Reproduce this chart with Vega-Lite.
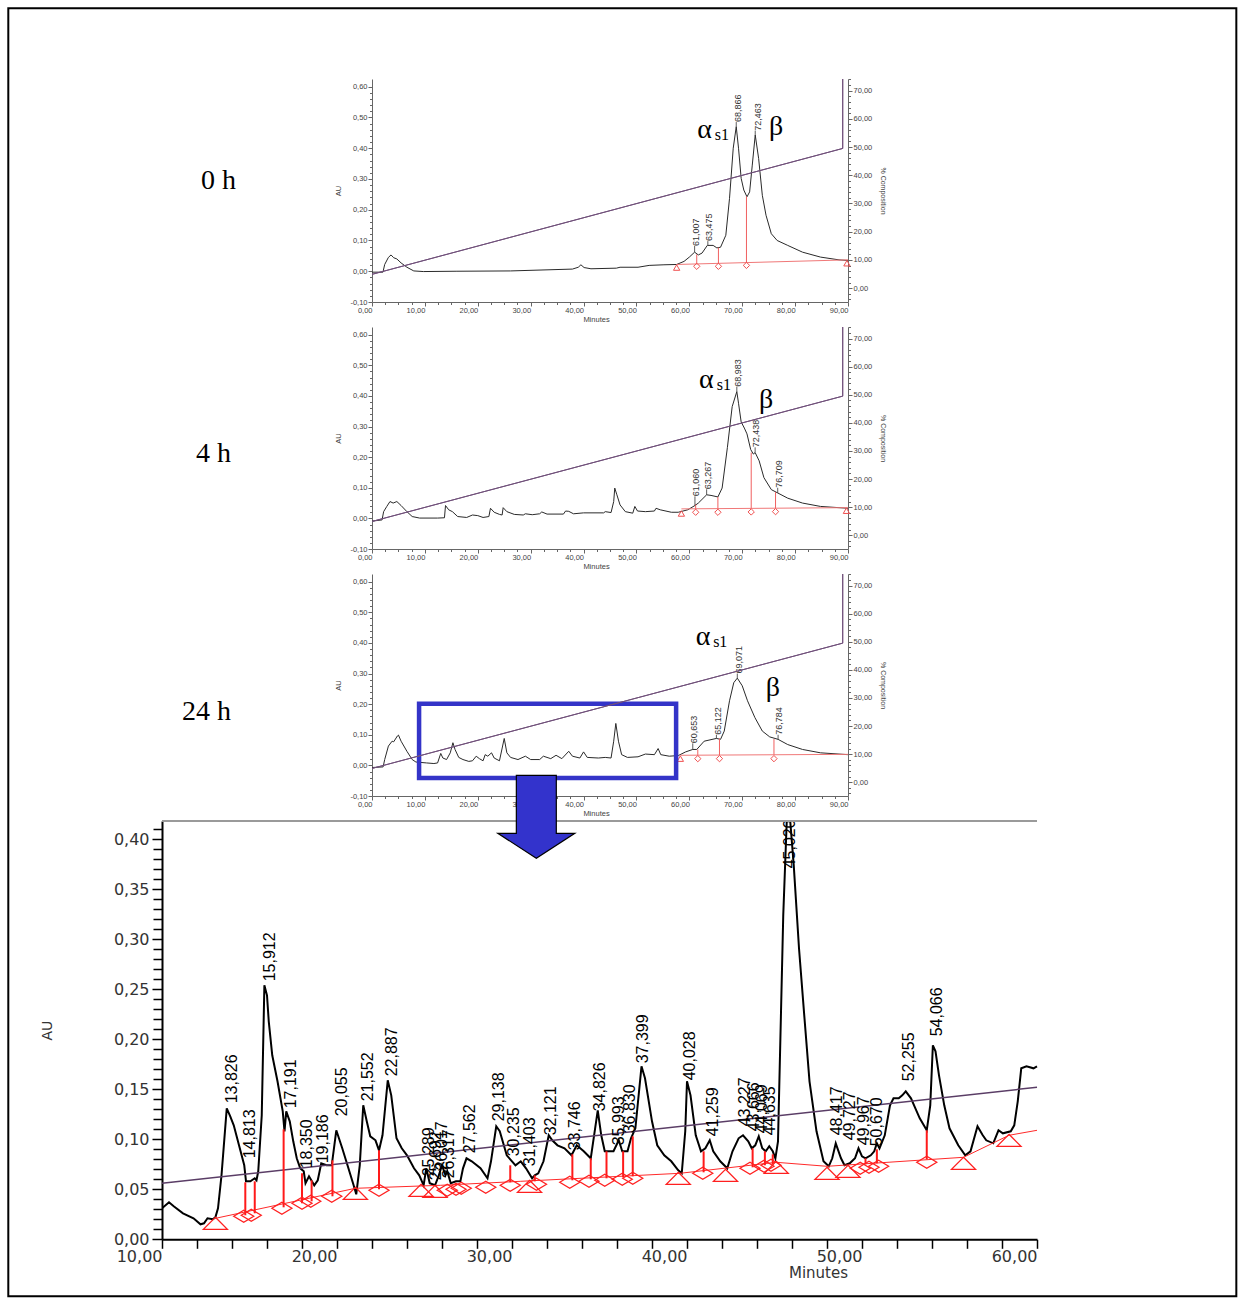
{
"$schema": "https://vega.github.io/schema/vega-lite/v6.json",
"background": "white",
"padding": {"left": 7, "top": 7, "right": 0, "bottom": 0},
"center": true,
"spacing": 25,
"bounds": "flush",
"config": {"view": {"stroke": null}, "axis": {"grid": false, "labelOverlap": false}},
"datasets": {
"tr0": [{"t":0,"v":-0.003},{"t":2.07,"v":-0.003},{"t":2.4,"v":0.022},{"t":3.1,"v":0.045},{"t":3.6,"v":0.053},{"t":4.1,"v":0.044},{"t":4.7,"v":0.04},{"t":5.5,"v":0.027},{"t":6.6,"v":0.013},{"t":7.9,"v":0.001},{"t":9.7,"v":-0.001},{"t":15.9,"v":0},{"t":26.2,"v":0.001},{"t":37.9,"v":0.007},{"t":39.0,"v":0.013},{"t":39.5,"v":0.021},{"t":40.1,"v":0.012},{"t":41.4,"v":0.008},{"t":46.2,"v":0.01},{"t":46.9,"v":0.013},{"t":50.3,"v":0.013},{"t":52.4,"v":0.019},{"t":55.2,"v":0.021},{"t":57.6,"v":0.022},{"t":59.0,"v":0.032},{"t":60.0,"v":0.046},{"t":61.0,"v":0.062},{"t":61.7,"v":0.053},{"t":62.4,"v":0.059},{"t":63.4,"v":0.084},{"t":64.5,"v":0.084},{"t":65.2,"v":0.076},{"t":65.9,"v":0.078},{"t":66.9,"v":0.117},{"t":67.6,"v":0.237},{"t":68.3,"v":0.4},{"t":68.87,"v":0.47},{"t":69.3,"v":0.4},{"t":69.8,"v":0.302},{"t":70.3,"v":0.264},{"t":70.9,"v":0.242},{"t":71.4,"v":0.258},{"t":71.9,"v":0.345},{"t":72.46,"v":0.443},{"t":73.1,"v":0.367},{"t":73.8,"v":0.247},{"t":74.5,"v":0.182},{"t":75.5,"v":0.122},{"t":76.6,"v":0.1},{"t":78.6,"v":0.084},{"t":81.4,"v":0.062},{"t":84.8,"v":0.046},{"t":88.3,"v":0.037},{"t":90,"v":0.035}],
"tr4": [{"t":0,"v":-0.009},{"t":1.9,"v":-0.005},{"t":2.2,"v":0.022},{"t":2.8,"v":0.039},{"t":3.4,"v":0.055},{"t":4.0,"v":0.05},{"t":4.7,"v":0.055},{"t":5.5,"v":0.042},{"t":6.6,"v":0.022},{"t":7.6,"v":0.006},{"t":9.0,"v":0.001},{"t":12.4,"v":0.001},{"t":13.7,"v":0.002},{"t":13.9,"v":0.042},{"t":14.5,"v":0.028},{"t":15.2,"v":0.022},{"t":16.2,"v":0.006},{"t":17.9,"v":0.003},{"t":19.0,"v":0.011},{"t":20.0,"v":0.009},{"t":21.0,"v":0.003},{"t":22.1,"v":0.006},{"t":22.4,"v":0.033},{"t":23.1,"v":0.02},{"t":24.1,"v":0.013},{"t":24.6,"v":0.011},{"t":24.8,"v":0.035},{"t":25.5,"v":0.022},{"t":26.9,"v":0.013},{"t":28.6,"v":0.011},{"t":29.0,"v":0.015},{"t":30.3,"v":0.012},{"t":31.7,"v":0.015},{"t":32.1,"v":0.021},{"t":33.1,"v":0.014},{"t":36.2,"v":0.014},{"t":36.6,"v":0.024},{"t":37.2,"v":0.023},{"t":38.1,"v":0.015},{"t":40.0,"v":0.018},{"t":43.8,"v":0.018},{"t":44.1,"v":0.022},{"t":45.2,"v":0.019},{"t":45.7,"v":0.055},{"t":45.9,"v":0.099},{"t":46.3,"v":0.077},{"t":46.9,"v":0.044},{"t":47.9,"v":0.022},{"t":49.3,"v":0.017},{"t":49.7,"v":0.039},{"t":50.2,"v":0.024},{"t":51.7,"v":0.022},{"t":53.4,"v":0.024},{"t":53.7,"v":0.033},{"t":54.5,"v":0.028},{"t":56.6,"v":0.02},{"t":57.9,"v":0.02},{"t":59.7,"v":0.028},{"t":61.06,"v":0.042},{"t":61.7,"v":0.05},{"t":63.27,"v":0.077},{"t":64.1,"v":0.075},{"t":65.4,"v":0.07},{"t":66.2,"v":0.099},{"t":67.2,"v":0.232},{"t":68.1,"v":0.365},{"t":68.98,"v":0.414},{"t":69.3,"v":0.376},{"t":69.8,"v":0.315},{"t":70.4,"v":0.295},{"t":70.9,"v":0.276},{"t":71.6,"v":0.225},{"t":72.1,"v":0.21},{"t":72.44,"v":0.215},{"t":73.2,"v":0.188},{"t":74.1,"v":0.133},{"t":75.5,"v":0.094},{"t":76.71,"v":0.083},{"t":78.6,"v":0.066},{"t":81.4,"v":0.05},{"t":84.8,"v":0.039},{"t":90,"v":0.033}],
"tr24": [{"t":0,"v":-0.007},{"t":2.1,"v":-0.005},{"t":2.4,"v":0.019},{"t":3.1,"v":0.063},{"t":3.8,"v":0.079},{"t":4.1,"v":0.077},{"t":4.8,"v":0.096},{"t":5.0,"v":0.099},{"t":5.5,"v":0.079},{"t":6.6,"v":0.046},{"t":7.6,"v":0.019},{"t":8.3,"v":0.011},{"t":10.3,"v":0.008},{"t":11.7,"v":0.006},{"t":12.4,"v":0.008},{"t":13.0,"v":0.039},{"t":13.4,"v":0.024},{"t":14.1,"v":0.019},{"t":14.8,"v":0.041},{"t":15.3,"v":0.074},{"t":15.7,"v":0.052},{"t":16.4,"v":0.026},{"t":17.2,"v":0.019},{"t":18.3,"v":0.013},{"t":19.0,"v":0.015},{"t":19.7,"v":0.03},{"t":20.3,"v":0.022},{"t":21.0,"v":0.015},{"t":21.4,"v":0.035},{"t":21.9,"v":0.03},{"t":22.6,"v":0.041},{"t":23.1,"v":0.024},{"t":24.1,"v":0.015},{"t":25.0,"v":0.088},{"t":25.5,"v":0.041},{"t":26.2,"v":0.026},{"t":27.6,"v":0.019},{"t":29.0,"v":0.03},{"t":30.0,"v":0.019},{"t":31.7,"v":0.019},{"t":32.4,"v":0.03},{"t":33.8,"v":0.022},{"t":34.8,"v":0.033},{"t":35.9,"v":0.022},{"t":37.2,"v":0.046},{"t":37.9,"v":0.03},{"t":39.3,"v":0.024},{"t":40.0,"v":0.044},{"t":40.7,"v":0.026},{"t":42.8,"v":0.024},{"t":44.1,"v":0.026},{"t":45.2,"v":0.024},{"t":45.7,"v":0.079},{"t":46.1,"v":0.137},{"t":46.6,"v":0.079},{"t":47.2,"v":0.035},{"t":48.3,"v":0.026},{"t":50.3,"v":0.028},{"t":51.7,"v":0.037},{"t":53.4,"v":0.035},{"t":54.1,"v":0.055},{"t":54.6,"v":0.035},{"t":56.2,"v":0.03},{"t":57.9,"v":0.032},{"t":59.3,"v":0.044},{"t":60.65,"v":0.052},{"t":61.4,"v":0.052},{"t":62.8,"v":0.079},{"t":65.12,"v":0.088},{"t":65.9,"v":0.085},{"t":66.6,"v":0.112},{"t":67.6,"v":0.211},{"t":68.4,"v":0.27},{"t":69.07,"v":0.285},{"t":70.0,"v":0.26},{"t":71.0,"v":0.211},{"t":72.4,"v":0.156},{"t":73.8,"v":0.112},{"t":75.2,"v":0.093},{"t":76.78,"v":0.085},{"t":78.6,"v":0.068},{"t":81.4,"v":0.052},{"t":84.8,"v":0.041},{"t":90,"v":0.035}],
"grad": [{"t":0,"pct":4.9},{"t":89.0,"pct":49.5},{"t":89.01,"pct":120}],
"bl": [{"p":"0h","t":57.6,"v":0.022},{"p":"0h","t":90,"v":0.037},{"p":"4h","t":58.5,"v":0.031},{"p":"4h","t":90,"v":0.035},{"p":"24h","t":58.3,"v":0.033},{"p":"24h","t":90,"v":0.036}],
"dr": [{"p":"0h","t":61.4,"v":0.024,"v2":0.055},{"p":"0h","t":65.5,"v":0.026,"v2":0.077},{"p":"0h","t":70.8,"v":0.028,"v2":0.243},{"p":"4h","t":61.2,"v":0.031,"v2":0.046},{"p":"4h","t":65.4,"v":0.032,"v2":0.07},{"p":"4h","t":71.7,"v":0.033,"v2":0.215},{"p":"4h","t":76.3,"v":0.034,"v2":0.086},{"p":"24h","t":61.6,"v":0.034,"v2":0.052},{"p":"24h","t":65.7,"v":0.034,"v2":0.088},{"p":"24h","t":76.0,"v":0.035,"v2":0.086}],
"mk": [{"p":"0h","t":57.6,"v":0.012,"m":"tri"},{"p":"0h","t":61.4,"v":0.016,"m":"dia"},{"p":"0h","t":65.5,"v":0.016,"m":"dia"},{"p":"0h","t":70.8,"v":0.019,"m":"dia"},{"p":"0h","t":89.8,"v":0.026,"m":"tri"},{"p":"4h","t":58.5,"v":0.016,"m":"tri"},{"p":"4h","t":61.2,"v":0.02,"m":"dia"},{"p":"4h","t":65.4,"v":0.02,"m":"dia"},{"p":"4h","t":71.7,"v":0.021,"m":"dia"},{"p":"4h","t":76.3,"v":0.022,"m":"dia"},{"p":"4h","t":89.7,"v":0.025,"m":"tri"},{"p":"24h","t":58.3,"v":0.022,"m":"tri"},{"p":"24h","t":61.6,"v":0.022,"m":"dia"},{"p":"24h","t":65.7,"v":0.022,"m":"dia"},{"p":"24h","t":76.0,"v":0.022,"m":"dia"}],
"pk": [{"p":"0h","lab":"61,007","tx":61.2,"ty":0.082,"pt":61.0,"pv":0.062},{"p":"0h","lab":"63,475","tx":63.8,"ty":0.098,"pt":63.5,"pv":0.085},{"p":"0h","lab":"68,866","tx":69.2,"ty":0.485,"pt":68.87,"pv":0.47},{"p":"0h","lab":"72,463","tx":72.9,"ty":0.457,"pt":72.46,"pv":0.443},{"p":"4h","lab":"61,060","tx":61.3,"ty":0.072,"pt":61.06,"pv":0.042},{"p":"4h","lab":"63,267","tx":63.6,"ty":0.095,"pt":63.27,"pv":0.077},{"p":"4h","lab":"68,983","tx":69.2,"ty":0.43,"pt":68.98,"pv":0.414},{"p":"4h","lab":"72,438","tx":72.6,"ty":0.232,"pt":72.44,"pv":0.215},{"p":"4h","lab":"76,709","tx":76.9,"ty":0.1,"pt":76.71,"pv":0.083},{"p":"24h","lab":"60,653","tx":60.9,"ty":0.072,"pt":60.65,"pv":0.052},{"p":"24h","lab":"65,122","tx":65.4,"ty":0.1,"pt":65.12,"pv":0.088},{"p":"24h","lab":"69,071","tx":69.3,"ty":0.3,"pt":69.07,"pv":0.285},{"p":"24h","lab":"76,784","tx":77.0,"ty":0.1,"pt":76.78,"pv":0.085}],
"gk": [{"p":"0h","k":"big","s":"α","t":62.9,"v":0.434},{"p":"0h","k":"sub","s":"s1","t":64.8,"v":0.426},{"p":"0h","k":"big","s":"β","t":76.4,"v":0.443},{"p":"4h","k":"big","s":"α","t":63.2,"v":0.425},{"p":"4h","k":"sub","s":"s1","t":65.2,"v":0.418},{"p":"4h","k":"big","s":"β","t":74.5,"v":0.359},{"p":"24h","k":"big","s":"α","t":62.6,"v":0.393},{"p":"24h","k":"sub","s":"s1","t":64.5,"v":0.386},{"p":"24h","k":"big","s":"β","t":75.8,"v":0.228}],
"box": [{"x1":8.9,"x2":57.5,"y1":-0.041,"y2":0.201}],
"trb": [{"t":10.0,"v":0.031},{"t":10.4,"v":0.037},{"t":10.67,"v":0.033},{"t":11.2,"v":0.026},{"t":11.8,"v":0.021},{"t":12.2,"v":0.015},{"t":12.4,"v":0.016},{"t":12.6,"v":0.021},{"t":12.9,"v":0.02},{"t":13.05,"v":0.022},{"t":13.2,"v":0.031},{"t":13.4,"v":0.064},{"t":13.7,"v":0.131},{"t":13.9,"v":0.123},{"t":14.1,"v":0.114},{"t":14.4,"v":0.094},{"t":14.7,"v":0.074},{"t":14.8,"v":0.058},{"t":15.05,"v":0.058},{"t":15.3,"v":0.061},{"t":15.4,"v":0.059},{"t":15.5,"v":0.068},{"t":15.7,"v":0.124},{"t":15.85,"v":0.254},{"t":16.0,"v":0.244},{"t":16.1,"v":0.218},{"t":16.3,"v":0.184},{"t":16.6,"v":0.158},{"t":16.9,"v":0.128},{"t":17.0,"v":0.108},{"t":17.1,"v":0.128},{"t":17.3,"v":0.118},{"t":17.5,"v":0.098},{"t":17.7,"v":0.081},{"t":17.9,"v":0.071},{"t":18.1,"v":0.068},{"t":18.2,"v":0.056},{"t":18.4,"v":0.063},{"t":18.7,"v":0.054},{"t":18.9,"v":0.059},{"t":19.1,"v":0.076},{"t":19.4,"v":0.074},{"t":19.7,"v":0.074},{"t":19.96,"v":0.109},{"t":20.3,"v":0.091},{"t":20.6,"v":0.074},{"t":20.95,"v":0.054},{"t":21.1,"v":0.045},{"t":21.3,"v":0.074},{"t":21.5,"v":0.134},{"t":21.7,"v":0.118},{"t":21.9,"v":0.103},{"t":22.2,"v":0.099},{"t":22.4,"v":0.089},{"t":22.6,"v":0.104},{"t":22.9,"v":0.159},{"t":23.1,"v":0.144},{"t":23.4,"v":0.101},{"t":23.7,"v":0.091},{"t":24.0,"v":0.084},{"t":24.4,"v":0.071},{"t":24.7,"v":0.064},{"t":24.95,"v":0.054},{"t":25.1,"v":0.071},{"t":25.3,"v":0.056},{"t":25.6,"v":0.054},{"t":25.8,"v":0.063},{"t":26.0,"v":0.074},{"t":26.2,"v":0.064},{"t":26.3,"v":0.068},{"t":26.5,"v":0.056},{"t":26.8,"v":0.058},{"t":27.05,"v":0.058},{"t":27.2,"v":0.071},{"t":27.4,"v":0.081},{"t":27.7,"v":0.078},{"t":28.2,"v":0.071},{"t":28.6,"v":0.061},{"t":28.8,"v":0.078},{"t":29.1,"v":0.113},{"t":29.3,"v":0.108},{"t":29.7,"v":0.084},{"t":30.0,"v":0.078},{"t":30.2,"v":0.074},{"t":30.5,"v":0.078},{"t":30.8,"v":0.071},{"t":31.15,"v":0.061},{"t":31.3,"v":0.064},{"t":31.5,"v":0.066},{"t":31.8,"v":0.078},{"t":32.1,"v":0.104},{"t":32.3,"v":0.099},{"t":32.6,"v":0.094},{"t":33.0,"v":0.091},{"t":33.4,"v":0.084},{"t":33.7,"v":0.094},{"t":34.1,"v":0.088},{"t":34.5,"v":0.081},{"t":34.9,"v":0.129},{"t":35.1,"v":0.104},{"t":35.3,"v":0.088},{"t":35.8,"v":0.088},{"t":36.1,"v":0.099},{"t":36.3,"v":0.088},{"t":36.6,"v":0.088},{"t":36.8,"v":0.101},{"t":37.05,"v":0.111},{"t":37.4,"v":0.173},{"t":37.6,"v":0.161},{"t":38.0,"v":0.118},{"t":38.3,"v":0.094},{"t":38.7,"v":0.084},{"t":39.1,"v":0.078},{"t":39.5,"v":0.069},{"t":39.7,"v":0.066},{"t":39.9,"v":0.108},{"t":40.0,"v":0.158},{"t":40.2,"v":0.144},{"t":40.5,"v":0.104},{"t":40.8,"v":0.088},{"t":41.05,"v":0.091},{"t":41.3,"v":0.099},{"t":41.5,"v":0.088},{"t":41.9,"v":0.078},{"t":42.3,"v":0.071},{"t":42.6,"v":0.088},{"t":42.95,"v":0.101},{"t":43.2,"v":0.104},{"t":43.5,"v":0.098},{"t":43.7,"v":0.091},{"t":43.9,"v":0.094},{"t":44.1,"v":0.103},{"t":44.3,"v":0.091},{"t":44.5,"v":0.088},{"t":44.7,"v":0.093},{"t":44.9,"v":0.088},{"t":45.05,"v":0.081},{"t":45.2,"v":0.098},{"t":45.5,"v":0.324},{"t":45.7,"v":0.418},{"t":45.9,"v":0.418},{"t":46.1,"v":0.374},{"t":46.4,"v":0.291},{"t":46.7,"v":0.224},{"t":47.0,"v":0.158},{"t":47.4,"v":0.108},{"t":47.8,"v":0.078},{"t":48.1,"v":0.073},{"t":48.3,"v":0.081},{"t":48.5,"v":0.096},{"t":48.8,"v":0.081},{"t":49.0,"v":0.074},{"t":49.3,"v":0.076},{"t":49.6,"v":0.081},{"t":49.8,"v":0.091},{"t":50.0,"v":0.083},{"t":50.2,"v":0.081},{"t":50.5,"v":0.084},{"t":50.7,"v":0.088},{"t":50.85,"v":0.096},{"t":51.0,"v":0.091},{"t":51.3,"v":0.104},{"t":51.6,"v":0.134},{"t":51.8,"v":0.141},{"t":52.1,"v":0.141},{"t":52.3,"v":0.144},{"t":52.5,"v":0.148},{"t":52.8,"v":0.141},{"t":53.05,"v":0.131},{"t":53.3,"v":0.121},{"t":53.7,"v":0.109},{"t":53.9,"v":0.134},{"t":54.05,"v":0.194},{"t":54.2,"v":0.188},{"t":54.4,"v":0.164},{"t":54.7,"v":0.134},{"t":55.0,"v":0.111},{"t":55.5,"v":0.094},{"t":55.9,"v":0.084},{"t":56.2,"v":0.088},{"t":56.6,"v":0.113},{"t":56.9,"v":0.104},{"t":57.1,"v":0.099},{"t":57.5,"v":0.096},{"t":57.8,"v":0.109},{"t":58.05,"v":0.106},{"t":58.5,"v":0.108},{"t":58.7,"v":0.114},{"t":58.9,"v":0.138},{"t":59.1,"v":0.171},{"t":59.4,"v":0.173},{"t":59.8,"v":0.171},{"t":60.0,"v":0.173}],
"gradb": [{"t":10,"v":0.056},{"t":60,"v":0.152}],
"blb": [{"t":13.06,"v":0.021},{"t":21.05,"v":0.051},{"t":25.9,"v":0.054},{"t":30.5,"v":0.058},{"t":39.6,"v":0.066},{"t":45.1,"v":0.077},{"t":48.0,"v":0.073},{"t":55.8,"v":0.082},{"t":58.4,"v":0.104},{"t":60,"v":0.109}],
"drb": [{"t":14.76,"v":0.024,"v2":0.057},{"t":15.3,"v":0.026,"v2":0.058},{"t":16.95,"v":0.032,"v2":0.11},{"t":18.0,"v":0.036,"v2":0.066},{"t":18.55,"v":0.038,"v2":0.059},{"t":19.74,"v":0.043,"v2":0.079},{"t":22.4,"v":0.05,"v2":0.089},{"t":29.9,"v":0.057,"v2":0.074},{"t":31.3,"v":0.058,"v2":0.064},{"t":33.45,"v":0.059,"v2":0.085},{"t":34.5,"v":0.06,"v2":0.081},{"t":35.4,"v":0.061,"v2":0.088},{"t":36.35,"v":0.062,"v2":0.088},{"t":36.9,"v":0.063,"v2":0.103},{"t":40.95,"v":0.067,"v2":0.088},{"t":43.75,"v":0.072,"v2":0.091},{"t":44.45,"v":0.074,"v2":0.088},{"t":44.9,"v":0.075,"v2":0.085},{"t":50.2,"v":0.075,"v2":0.081},{"t":50.85,"v":0.076,"v2":0.09},{"t":53.7,"v":0.08,"v2":0.109}],
"mkb": [{"t":13.05,"v":0.016,"m":"tri"},{"t":14.67,"v":0.023,"m":"dia"},{"t":15.1,"v":0.024,"m":"dia"},{"t":16.85,"v":0.031,"m":"dia"},{"t":18.0,"v":0.036,"m":"dia"},{"t":18.5,"v":0.038,"m":"dia"},{"t":19.7,"v":0.043,"m":"dia"},{"t":21.05,"v":0.046,"m":"tri"},{"t":22.4,"v":0.049,"m":"dia"},{"t":24.8,"v":0.049,"m":"tri"},{"t":25.6,"v":0.048,"m":"tri"},{"t":26.3,"v":0.049,"m":"dia"},{"t":26.8,"v":0.05,"m":"dia"},{"t":27.1,"v":0.051,"m":"dia"},{"t":28.5,"v":0.052,"m":"dia"},{"t":29.9,"v":0.054,"m":"dia"},{"t":31.0,"v":0.053,"m":"tri"},{"t":31.4,"v":0.055,"m":"dia"},{"t":33.3,"v":0.057,"m":"dia"},{"t":34.4,"v":0.058,"m":"dia"},{"t":35.3,"v":0.059,"m":"dia"},{"t":36.3,"v":0.06,"m":"dia"},{"t":36.9,"v":0.061,"m":"dia"},{"t":39.5,"v":0.061,"m":"tri"},{"t":40.9,"v":0.066,"m":"dia"},{"t":42.2,"v":0.064,"m":"tri"},{"t":43.6,"v":0.071,"m":"dia"},{"t":44.4,"v":0.073,"m":"dia"},{"t":44.8,"v":0.074,"m":"dia"},{"t":45.1,"v":0.072,"m":"tri"},{"t":48.0,"v":0.066,"m":"tri"},{"t":49.2,"v":0.068,"m":"tri"},{"t":49.9,"v":0.071,"m":"dia"},{"t":50.4,"v":0.072,"m":"dia"},{"t":50.95,"v":0.073,"m":"dia"},{"t":53.7,"v":0.077,"m":"dia"},{"t":55.8,"v":0.076,"m":"tri"},{"t":58.4,"v":0.099,"m":"tri"}],
"pkb": [{"lab":"13,826","tx":14.0,"ty":0.136},{"lab":"14,813","tx":15.05,"ty":0.081},{"lab":"15,912","tx":16.15,"ty":0.258},{"lab":"17,191","tx":17.37,"ty":0.131},{"lab":"18,350","tx":18.3,"ty":0.071},{"lab":"19,186","tx":19.2,"ty":0.076},{"lab":"20,055","tx":20.3,"ty":0.123},{"lab":"21,552","tx":21.75,"ty":0.138},{"lab":"22,887","tx":23.14,"ty":0.163},{"lab":"25,289","tx":25.24,"ty":0.063},{"lab":"25,692","tx":25.68,"ty":0.059},{"lab":"26,017","tx":26.0,"ty":0.069},{"lab":"26,317","tx":26.4,"ty":0.061},{"lab":"27,562","tx":27.6,"ty":0.086},{"lab":"29,138","tx":29.25,"ty":0.118},{"lab":"30,235","tx":30.1,"ty":0.083},{"lab":"31,403","tx":31.0,"ty":0.073},{"lab":"32,121","tx":32.2,"ty":0.104},{"lab":"33,746","tx":33.6,"ty":0.089},{"lab":"34,826","tx":35.0,"ty":0.128},{"lab":"35,993","tx":36.1,"ty":0.094},{"lab":"36,830","tx":36.76,"ty":0.106},{"lab":"37,399","tx":37.5,"ty":0.176},{"lab":"40,028","tx":40.15,"ty":0.159},{"lab":"41,259","tx":41.5,"ty":0.103},{"lab":"43,227","tx":43.33,"ty":0.113},{"lab":"43,666","tx":43.8,"ty":0.108},{"lab":"44,069","tx":44.3,"ty":0.106},{"lab":"44,635","tx":44.76,"ty":0.104},{"lab":"45,020","tx":45.9,"ty":0.371},{"lab":"48,417","tx":48.57,"ty":0.104},{"lab":"49,727","tx":49.34,"ty":0.099},{"lab":"49,967","tx":50.1,"ty":0.094},{"lab":"50,670","tx":50.86,"ty":0.093},{"lab":"52,255","tx":52.66,"ty":0.158},{"lab":"54,066","tx":54.3,"ty":0.203}],
"arrow": [{"t":31.39,"v":0.406}],
"frame": [{"x1":1.217,"x2":71.39,"y1":-0.057,"y2":1.231}],
"topline": [{"a":10,"b":60,"v":0.4183}]
},
"vconcat": [
{
 "width": 476, "height": 223,
 "title": {"text": "0 h", "orient": "left", "anchor": "middle", "frame": "group", "angle": 0, "align": "left", "baseline": "alphabetic", "offset": 99, "dy": -2, "font": "Liberation Serif", "fontSize": 28, "fontWeight": "normal", "color": "black"},
 "layer": [
  {"data": {"name": "tr0"}, "mark": {"type": "line", "color": "#2a2a2a", "strokeWidth": 1, "clip": true},
   "encoding": {
    "x": {"field": "t", "type": "quantitative", "scale": {"domain": [0, 90], "nice": false, "zero": false},
      "axis": {"orient": "bottom", "title": "Minutes", "titleFont": "Liberation Sans", "titleFontSize": 7.5, "titleFontWeight": "normal", "titleColor": "#444", "titlePadding": 2, "titleX": 224, "values": [0,10,20,30,40,50,60,70,80,90], "labelExpr": "replace(format(datum.value, '.2f'), '.', ',')", "labelAlign": "right", "labelFlush": false, "labelFont": "Liberation Sans", "labelFontSize": 7.5, "labelColor": "#444", "labelPadding": 0, "tickSize": 4, "tickColor": "#666", "domainColor": "#666"}},
    "y": {"field": "v", "type": "quantitative", "scale": {"domain": [-0.1, 0.625], "nice": false, "zero": false},
      "axis": {"orient": "left", "title": "AU", "titleFont": "Liberation Sans", "titleFontSize": 7.5, "titleFontWeight": "normal", "titleColor": "#444", "titlePadding": 7, "values": [-0.1,0,0.1,0.2,0.3,0.4,0.5,0.6], "labelExpr": "replace(replace(format(datum.value, '.2f'), '.', ','), '−', '-')", "labelFlush": false, "labelFont": "Liberation Sans", "labelFontSize": 7.5, "labelColor": "#444", "labelPadding": 1, "tickSize": 4, "tickColor": "#666", "domainColor": "#666"}}}},
  {"data": {"name": "bl"}, "transform": [{"filter": "datum.p == '0h'"}], "mark": {"type": "line", "color": "#f07878", "strokeWidth": 1},
   "encoding": {
    "x": {"field": "t", "type": "quantitative", "scale": {"domain": [0, 90], "nice": false, "zero": false},
      "axis": {"orient": "bottom", "title": null, "values": [2.5,5,7.5,12.5,15,17.5,22.5,25,27.5,32.5,35,37.5,42.5,45,47.5,52.5,55,57.5,62.5,65,67.5,72.5,75,77.5,82.5,85,87.5], "labels": false, "domain": false, "tickSize": 2.5, "tickColor": "#666"}},
    "y": {"field": "v", "type": "quantitative", "scale": {"domain": [-0.1, 0.625], "nice": false, "zero": false},
      "axis": {"orient": "left", "title": null, "values": [-0.08,-0.06,-0.04,-0.02,0.02,0.04,0.06,0.08,0.12,0.14,0.16,0.18,0.22,0.24,0.26,0.28,0.32,0.34,0.36,0.38,0.42,0.44,0.46,0.48,0.52,0.54,0.56,0.58], "labels": false, "domain": false, "tickSize": 2.5, "tickColor": "#666"}}}},
  {"data": {"name": "dr"}, "transform": [{"filter": "datum.p == '0h'"}], "mark": {"type": "rule", "color": "#f06060", "strokeWidth": 1},
   "encoding": {"x": {"field": "t", "type": "quantitative", "scale": {"domain": [0, 90], "nice": false, "zero": false}, "axis": null}, "y": {"field": "v", "type": "quantitative", "scale": {"domain": [-0.1, 0.625], "nice": false, "zero": false}, "axis": null}, "y2": {"field": "v2"}}},
  {"data": {"name": "mk"}, "transform": [{"filter": "datum.p == '0h'"}], "mark": {"type": "point", "filled": false, "color": "#f05050", "opacity": 1, "size": 40, "strokeWidth": 1},
   "encoding": {"x": {"field": "t", "type": "quantitative", "scale": {"domain": [0, 90], "nice": false, "zero": false}, "axis": null}, "y": {"field": "v", "type": "quantitative", "scale": {"domain": [-0.1, 0.625], "nice": false, "zero": false}, "axis": null}, "shape": {"field": "m", "type": "nominal", "scale": {"domain": ["tri", "dia"], "range": ["triangle-up", "diamond"]}, "legend": null}}},
  {"data": {"name": "pk"}, "transform": [{"filter": "datum.p == '0h'"}], "mark": {"type": "rule", "color": "#333", "strokeWidth": 0.8},
   "encoding": {"x": {"field": "pt", "type": "quantitative", "scale": {"domain": [0, 90], "nice": false, "zero": false}, "axis": null}, "y": {"field": "pv", "type": "quantitative", "scale": {"domain": [-0.1, 0.625], "nice": false, "zero": false}, "axis": null}, "y2": {"field": "ty"}}},
  {"data": {"name": "pk"}, "transform": [{"filter": "datum.p == '0h'"}], "mark": {"type": "text", "angle": 270, "align": "left", "baseline": "middle", "font": "Liberation Sans", "fontSize": 9, "color": "#333"},
   "encoding": {"x": {"field": "tx", "type": "quantitative", "scale": {"domain": [0, 90], "nice": false, "zero": false}, "axis": null}, "y": {"field": "ty", "type": "quantitative", "scale": {"domain": [-0.1, 0.625], "nice": false, "zero": false}, "axis": null}, "text": {"field": "lab"}}},
  {"data": {"name": "gk"}, "transform": [{"filter": "datum.p == '0h' && datum.k == 'big'"}], "mark": {"type": "text", "align": "center", "baseline": "alphabetic", "font": "Liberation Serif", "fontSize": 28, "color": "black"},
   "encoding": {"x": {"field": "t", "type": "quantitative", "scale": {"domain": [0, 90], "nice": false, "zero": false}, "axis": null}, "y": {"field": "v", "type": "quantitative", "scale": {"domain": [-0.1, 0.625], "nice": false, "zero": false}, "axis": null}, "text": {"field": "s"}}},
  {"data": {"name": "gk"}, "transform": [{"filter": "datum.p == '0h' && datum.k == 'sub'"}], "mark": {"type": "text", "align": "left", "baseline": "alphabetic", "font": "Liberation Serif", "fontSize": 16, "color": "black"},
   "encoding": {"x": {"field": "t", "type": "quantitative", "scale": {"domain": [0, 90], "nice": false, "zero": false}, "axis": null}, "y": {"field": "v", "type": "quantitative", "scale": {"domain": [-0.1, 0.625], "nice": false, "zero": false}, "axis": null}, "text": {"field": "s"}}},
  {"data": {"name": "grad"}, "mark": {"type": "line", "color": "#70507a", "strokeWidth": 1, "clip": true},
   "encoding": {"x": {"field": "t", "type": "quantitative", "scale": {"domain": [0, 90], "nice": false, "zero": false}, "axis": null},
    "y": {"field": "pct", "type": "quantitative", "scale": {"domain": [-4.9, 74.1], "nice": false, "zero": false},
     "axis": {"orient": "right", "title": "% Composition", "titleFont": "Liberation Sans", "titleFontSize": 7, "titleFontWeight": "normal", "titleColor": "#444", "titlePadding": 8, "values": [0,10,20,30,40,50,60,70], "labelExpr": "replace(format(datum.value, '.2f'), '.', ',')", "labelFlush": false, "labelFont": "Liberation Sans", "labelFontSize": 7.5, "labelColor": "#444", "labelPadding": 1, "tickSize": 4, "tickColor": "#666", "domainColor": "#666"}}}},
  {"data": {"name": "grad"}, "mark": {"type": "line", "color": "#70507a", "strokeWidth": 1, "clip": true},
   "encoding": {"x": {"field": "t", "type": "quantitative", "scale": {"domain": [0, 90], "nice": false, "zero": false}, "axis": null},
    "y": {"field": "pct", "type": "quantitative", "scale": {"domain": [-4.9, 74.1], "nice": false, "zero": false},
     "axis": {"orient": "right", "title": null, "values": [-4,-2,2,4,6,8,12,14,16,18,22,24,26,28,32,34,36,38,42,44,46,48,52,54,56,58,62,64,66,68,72,74], "labels": false, "domain": false, "tickSize": 2.5, "tickColor": "#666"}}}}
 ],
 "resolve": {"scale": {"y": "independent"}, "axis": {"x": "independent", "y": "independent"}}
},
{
 "width": 476, "height": 222,
 "title": {"text": "4 h", "orient": "left", "anchor": "middle", "frame": "group", "angle": 0, "align": "left", "baseline": "alphabetic", "offset": 104, "dy": 24, "font": "Liberation Serif", "fontSize": 28, "fontWeight": "normal", "color": "black"},
 "layer": [
  {"data": {"name": "tr4"}, "mark": {"type": "line", "color": "#2a2a2a", "strokeWidth": 1, "clip": true},
   "encoding": {
    "x": {"field": "t", "type": "quantitative", "scale": {"domain": [0, 90], "nice": false, "zero": false},
      "axis": {"orient": "bottom", "title": "Minutes", "titleFont": "Liberation Sans", "titleFontSize": 7.5, "titleFontWeight": "normal", "titleColor": "#444", "titlePadding": 2, "titleX": 224, "values": [0,10,20,30,40,50,60,70,80,90], "labelExpr": "replace(format(datum.value, '.2f'), '.', ',')", "labelAlign": "right", "labelFlush": false, "labelFont": "Liberation Sans", "labelFontSize": 7.5, "labelColor": "#444", "labelPadding": 0, "tickSize": 4, "tickColor": "#666", "domainColor": "#666"}},
    "y": {"field": "v", "type": "quantitative", "scale": {"domain": [-0.1, 0.625], "nice": false, "zero": false},
      "axis": {"orient": "left", "title": "AU", "titleFont": "Liberation Sans", "titleFontSize": 7.5, "titleFontWeight": "normal", "titleColor": "#444", "titlePadding": 7, "values": [-0.1,0,0.1,0.2,0.3,0.4,0.5,0.6], "labelExpr": "replace(replace(format(datum.value, '.2f'), '.', ','), '−', '-')", "labelFlush": false, "labelFont": "Liberation Sans", "labelFontSize": 7.5, "labelColor": "#444", "labelPadding": 1, "tickSize": 4, "tickColor": "#666", "domainColor": "#666"}}}},
  {"data": {"name": "bl"}, "transform": [{"filter": "datum.p == '4h'"}], "mark": {"type": "line", "color": "#f07878", "strokeWidth": 1},
   "encoding": {
    "x": {"field": "t", "type": "quantitative", "scale": {"domain": [0, 90], "nice": false, "zero": false},
      "axis": {"orient": "bottom", "title": null, "values": [2.5,5,7.5,12.5,15,17.5,22.5,25,27.5,32.5,35,37.5,42.5,45,47.5,52.5,55,57.5,62.5,65,67.5,72.5,75,77.5,82.5,85,87.5], "labels": false, "domain": false, "tickSize": 2.5, "tickColor": "#666"}},
    "y": {"field": "v", "type": "quantitative", "scale": {"domain": [-0.1, 0.625], "nice": false, "zero": false},
      "axis": {"orient": "left", "title": null, "values": [-0.08,-0.06,-0.04,-0.02,0.02,0.04,0.06,0.08,0.12,0.14,0.16,0.18,0.22,0.24,0.26,0.28,0.32,0.34,0.36,0.38,0.42,0.44,0.46,0.48,0.52,0.54,0.56,0.58], "labels": false, "domain": false, "tickSize": 2.5, "tickColor": "#666"}}}},
  {"data": {"name": "dr"}, "transform": [{"filter": "datum.p == '4h'"}], "mark": {"type": "rule", "color": "#f06060", "strokeWidth": 1},
   "encoding": {"x": {"field": "t", "type": "quantitative", "scale": {"domain": [0, 90], "nice": false, "zero": false}, "axis": null}, "y": {"field": "v", "type": "quantitative", "scale": {"domain": [-0.1, 0.625], "nice": false, "zero": false}, "axis": null}, "y2": {"field": "v2"}}},
  {"data": {"name": "mk"}, "transform": [{"filter": "datum.p == '4h'"}], "mark": {"type": "point", "filled": false, "color": "#f05050", "opacity": 1, "size": 40, "strokeWidth": 1},
   "encoding": {"x": {"field": "t", "type": "quantitative", "scale": {"domain": [0, 90], "nice": false, "zero": false}, "axis": null}, "y": {"field": "v", "type": "quantitative", "scale": {"domain": [-0.1, 0.625], "nice": false, "zero": false}, "axis": null}, "shape": {"field": "m", "type": "nominal", "scale": {"domain": ["tri", "dia"], "range": ["triangle-up", "diamond"]}, "legend": null}}},
  {"data": {"name": "pk"}, "transform": [{"filter": "datum.p == '4h'"}], "mark": {"type": "rule", "color": "#333", "strokeWidth": 0.8},
   "encoding": {"x": {"field": "pt", "type": "quantitative", "scale": {"domain": [0, 90], "nice": false, "zero": false}, "axis": null}, "y": {"field": "pv", "type": "quantitative", "scale": {"domain": [-0.1, 0.625], "nice": false, "zero": false}, "axis": null}, "y2": {"field": "ty"}}},
  {"data": {"name": "pk"}, "transform": [{"filter": "datum.p == '4h'"}], "mark": {"type": "text", "angle": 270, "align": "left", "baseline": "middle", "font": "Liberation Sans", "fontSize": 9, "color": "#333"},
   "encoding": {"x": {"field": "tx", "type": "quantitative", "scale": {"domain": [0, 90], "nice": false, "zero": false}, "axis": null}, "y": {"field": "ty", "type": "quantitative", "scale": {"domain": [-0.1, 0.625], "nice": false, "zero": false}, "axis": null}, "text": {"field": "lab"}}},
  {"data": {"name": "gk"}, "transform": [{"filter": "datum.p == '4h' && datum.k == 'big'"}], "mark": {"type": "text", "align": "center", "baseline": "alphabetic", "font": "Liberation Serif", "fontSize": 28, "color": "black"},
   "encoding": {"x": {"field": "t", "type": "quantitative", "scale": {"domain": [0, 90], "nice": false, "zero": false}, "axis": null}, "y": {"field": "v", "type": "quantitative", "scale": {"domain": [-0.1, 0.625], "nice": false, "zero": false}, "axis": null}, "text": {"field": "s"}}},
  {"data": {"name": "gk"}, "transform": [{"filter": "datum.p == '4h' && datum.k == 'sub'"}], "mark": {"type": "text", "align": "left", "baseline": "alphabetic", "font": "Liberation Serif", "fontSize": 16, "color": "black"},
   "encoding": {"x": {"field": "t", "type": "quantitative", "scale": {"domain": [0, 90], "nice": false, "zero": false}, "axis": null}, "y": {"field": "v", "type": "quantitative", "scale": {"domain": [-0.1, 0.625], "nice": false, "zero": false}, "axis": null}, "text": {"field": "s"}}},
  {"data": {"name": "grad"}, "mark": {"type": "line", "color": "#70507a", "strokeWidth": 1, "clip": true},
   "encoding": {"x": {"field": "t", "type": "quantitative", "scale": {"domain": [0, 90], "nice": false, "zero": false}, "axis": null},
    "y": {"field": "pct", "type": "quantitative", "scale": {"domain": [-4.9, 74.1], "nice": false, "zero": false},
     "axis": {"orient": "right", "title": "% Composition", "titleFont": "Liberation Sans", "titleFontSize": 7, "titleFontWeight": "normal", "titleColor": "#444", "titlePadding": 8, "values": [0,10,20,30,40,50,60,70], "labelExpr": "replace(format(datum.value, '.2f'), '.', ',')", "labelFlush": false, "labelFont": "Liberation Sans", "labelFontSize": 7.5, "labelColor": "#444", "labelPadding": 1, "tickSize": 4, "tickColor": "#666", "domainColor": "#666"}}}},
  {"data": {"name": "grad"}, "mark": {"type": "line", "color": "#70507a", "strokeWidth": 1, "clip": true},
   "encoding": {"x": {"field": "t", "type": "quantitative", "scale": {"domain": [0, 90], "nice": false, "zero": false}, "axis": null},
    "y": {"field": "pct", "type": "quantitative", "scale": {"domain": [-4.9, 74.1], "nice": false, "zero": false},
     "axis": {"orient": "right", "title": null, "values": [-4,-2,2,4,6,8,12,14,16,18,22,24,26,28,32,34,36,38,42,44,46,48,52,54,56,58,62,64,66,68,72,74], "labels": false, "domain": false, "tickSize": 2.5, "tickColor": "#666"}}}}
 ],
 "resolve": {"scale": {"y": "independent"}, "axis": {"x": "independent", "y": "independent"}}
},
{
 "width": 476, "height": 222,
 "title": {"text": "24 h", "orient": "left", "anchor": "middle", "frame": "group", "angle": 0, "align": "left", "baseline": "alphabetic", "offset": 104, "dy": 35, "font": "Liberation Serif", "fontSize": 28, "fontWeight": "normal", "color": "black"},
 "layer": [
  {"data": {"name": "tr24"}, "mark": {"type": "line", "color": "#2a2a2a", "strokeWidth": 1, "clip": true},
   "encoding": {
    "x": {"field": "t", "type": "quantitative", "scale": {"domain": [0, 90], "nice": false, "zero": false},
      "axis": {"orient": "bottom", "title": "Minutes", "titleFont": "Liberation Sans", "titleFontSize": 7.5, "titleFontWeight": "normal", "titleColor": "#444", "titlePadding": 2, "titleX": 224, "values": [0,10,20,30,40,50,60,70,80,90], "labelExpr": "replace(format(datum.value, '.2f'), '.', ',')", "labelAlign": "right", "labelFlush": false, "labelFont": "Liberation Sans", "labelFontSize": 7.5, "labelColor": "#444", "labelPadding": 0, "tickSize": 4, "tickColor": "#666", "domainColor": "#666"}},
    "y": {"field": "v", "type": "quantitative", "scale": {"domain": [-0.1, 0.625], "nice": false, "zero": false},
      "axis": {"orient": "left", "title": "AU", "titleFont": "Liberation Sans", "titleFontSize": 7.5, "titleFontWeight": "normal", "titleColor": "#444", "titlePadding": 7, "values": [-0.1,0,0.1,0.2,0.3,0.4,0.5,0.6], "labelExpr": "replace(replace(format(datum.value, '.2f'), '.', ','), '−', '-')", "labelFlush": false, "labelFont": "Liberation Sans", "labelFontSize": 7.5, "labelColor": "#444", "labelPadding": 1, "tickSize": 4, "tickColor": "#666", "domainColor": "#666"}}}},
  {"data": {"name": "bl"}, "transform": [{"filter": "datum.p == '24h'"}], "mark": {"type": "line", "color": "#f07878", "strokeWidth": 1},
   "encoding": {
    "x": {"field": "t", "type": "quantitative", "scale": {"domain": [0, 90], "nice": false, "zero": false},
      "axis": {"orient": "bottom", "title": null, "values": [2.5,5,7.5,12.5,15,17.5,22.5,25,27.5,32.5,35,37.5,42.5,45,47.5,52.5,55,57.5,62.5,65,67.5,72.5,75,77.5,82.5,85,87.5], "labels": false, "domain": false, "tickSize": 2.5, "tickColor": "#666"}},
    "y": {"field": "v", "type": "quantitative", "scale": {"domain": [-0.1, 0.625], "nice": false, "zero": false},
      "axis": {"orient": "left", "title": null, "values": [-0.08,-0.06,-0.04,-0.02,0.02,0.04,0.06,0.08,0.12,0.14,0.16,0.18,0.22,0.24,0.26,0.28,0.32,0.34,0.36,0.38,0.42,0.44,0.46,0.48,0.52,0.54,0.56,0.58], "labels": false, "domain": false, "tickSize": 2.5, "tickColor": "#666"}}}},
  {"data": {"name": "dr"}, "transform": [{"filter": "datum.p == '24h'"}], "mark": {"type": "rule", "color": "#f06060", "strokeWidth": 1},
   "encoding": {"x": {"field": "t", "type": "quantitative", "scale": {"domain": [0, 90], "nice": false, "zero": false}, "axis": null}, "y": {"field": "v", "type": "quantitative", "scale": {"domain": [-0.1, 0.625], "nice": false, "zero": false}, "axis": null}, "y2": {"field": "v2"}}},
  {"data": {"name": "mk"}, "transform": [{"filter": "datum.p == '24h'"}], "mark": {"type": "point", "filled": false, "color": "#f05050", "opacity": 1, "size": 40, "strokeWidth": 1},
   "encoding": {"x": {"field": "t", "type": "quantitative", "scale": {"domain": [0, 90], "nice": false, "zero": false}, "axis": null}, "y": {"field": "v", "type": "quantitative", "scale": {"domain": [-0.1, 0.625], "nice": false, "zero": false}, "axis": null}, "shape": {"field": "m", "type": "nominal", "scale": {"domain": ["tri", "dia"], "range": ["triangle-up", "diamond"]}, "legend": null}}},
  {"data": {"name": "pk"}, "transform": [{"filter": "datum.p == '24h'"}], "mark": {"type": "rule", "color": "#333", "strokeWidth": 0.8},
   "encoding": {"x": {"field": "pt", "type": "quantitative", "scale": {"domain": [0, 90], "nice": false, "zero": false}, "axis": null}, "y": {"field": "pv", "type": "quantitative", "scale": {"domain": [-0.1, 0.625], "nice": false, "zero": false}, "axis": null}, "y2": {"field": "ty"}}},
  {"data": {"name": "pk"}, "transform": [{"filter": "datum.p == '24h'"}], "mark": {"type": "text", "angle": 270, "align": "left", "baseline": "middle", "font": "Liberation Sans", "fontSize": 9, "color": "#333"},
   "encoding": {"x": {"field": "tx", "type": "quantitative", "scale": {"domain": [0, 90], "nice": false, "zero": false}, "axis": null}, "y": {"field": "ty", "type": "quantitative", "scale": {"domain": [-0.1, 0.625], "nice": false, "zero": false}, "axis": null}, "text": {"field": "lab"}}},
  {"data": {"name": "gk"}, "transform": [{"filter": "datum.p == '24h' && datum.k == 'big'"}], "mark": {"type": "text", "align": "center", "baseline": "alphabetic", "font": "Liberation Serif", "fontSize": 28, "color": "black"},
   "encoding": {"x": {"field": "t", "type": "quantitative", "scale": {"domain": [0, 90], "nice": false, "zero": false}, "axis": null}, "y": {"field": "v", "type": "quantitative", "scale": {"domain": [-0.1, 0.625], "nice": false, "zero": false}, "axis": null}, "text": {"field": "s"}}},
  {"data": {"name": "gk"}, "transform": [{"filter": "datum.p == '24h' && datum.k == 'sub'"}], "mark": {"type": "text", "align": "left", "baseline": "alphabetic", "font": "Liberation Serif", "fontSize": 16, "color": "black"},
   "encoding": {"x": {"field": "t", "type": "quantitative", "scale": {"domain": [0, 90], "nice": false, "zero": false}, "axis": null}, "y": {"field": "v", "type": "quantitative", "scale": {"domain": [-0.1, 0.625], "nice": false, "zero": false}, "axis": null}, "text": {"field": "s"}}},
  {"data": {"name": "box"}, "mark": {"type": "rect", "filled": false, "stroke": "#3434c8", "strokeWidth": 4.5},
   "encoding": {"x": {"field": "x1", "type": "quantitative", "scale": {"domain": [0, 90], "nice": false, "zero": false}, "axis": null}, "x2": {"field": "x2"}, "y": {"field": "y1", "type": "quantitative", "scale": {"domain": [-0.1, 0.625], "nice": false, "zero": false}, "axis": null}, "y2": {"field": "y2"}}},
  {"data": {"name": "grad"}, "mark": {"type": "line", "color": "#70507a", "strokeWidth": 1, "clip": true},
   "encoding": {"x": {"field": "t", "type": "quantitative", "scale": {"domain": [0, 90], "nice": false, "zero": false}, "axis": null},
    "y": {"field": "pct", "type": "quantitative", "scale": {"domain": [-4.9, 74.1], "nice": false, "zero": false},
     "axis": {"orient": "right", "title": "% Composition", "titleFont": "Liberation Sans", "titleFontSize": 7, "titleFontWeight": "normal", "titleColor": "#444", "titlePadding": 8, "values": [0,10,20,30,40,50,60,70], "labelExpr": "replace(format(datum.value, '.2f'), '.', ',')", "labelFlush": false, "labelFont": "Liberation Sans", "labelFontSize": 7.5, "labelColor": "#444", "labelPadding": 1, "tickSize": 4, "tickColor": "#666", "domainColor": "#666"}}}},
  {"data": {"name": "grad"}, "mark": {"type": "line", "color": "#70507a", "strokeWidth": 1, "clip": true},
   "encoding": {"x": {"field": "t", "type": "quantitative", "scale": {"domain": [0, 90], "nice": false, "zero": false}, "axis": null},
    "y": {"field": "pct", "type": "quantitative", "scale": {"domain": [-4.9, 74.1], "nice": false, "zero": false},
     "axis": {"orient": "right", "title": null, "values": [-4,-2,2,4,6,8,12,14,16,18,22,24,26,28,32,34,36,38,42,44,46,48,52,54,56,58,62,64,66,68,72,74], "labels": false, "domain": false, "tickSize": 2.5, "tickColor": "#666"}}}}
 ],
 "resolve": {"scale": {"y": "independent"}, "axis": {"x": "independent", "y": "independent"}}
},
{
 "width": 896, "height": 418.3,
 "layer": [
  {"data": {"name": "trb"}, "mark": {"type": "line", "color": "black", "strokeWidth": 2, "clip": true},
   "encoding": {
    "x": {"field": "t", "type": "quantitative", "scale": {"domain": [10, 60], "range": [0, 875], "nice": false, "zero": false},
     "axis": {"orient": "bottom", "title": "Minutes", "titleFont": "DejaVu Sans", "titleFontSize": 15, "titleFontWeight": "normal", "titleColor": "#333", "titlePadding": 1, "titleX": 656, "values": [10,20,30,40,50,60], "labelExpr": "replace(format(datum.value, '.2f'), '.', ',')", "labelAlign": "right", "labelFlush": false, "labelFont": "DejaVu Sans", "labelFontSize": 16, "labelColor": "#333", "labelPadding": 0, "tickSize": 9, "tickWidth": 1.5, "tickColor": "black", "domainColor": "black", "domainWidth": 2}},
    "y": {"field": "v", "type": "quantitative", "scale": {"domain": [0, 0.4183], "nice": false, "zero": false},
     "axis": {"orient": "left", "title": "AU", "titleFont": "DejaVu Sans", "titleFontSize": 14, "titleFontWeight": "normal", "titleColor": "#333", "titlePadding": 59, "values": [0,0.05,0.1,0.15,0.2,0.25,0.3,0.35,0.4], "labelExpr": "replace(format(datum.value, '.2f'), '.', ',')", "labelFlush": false, "labelFont": "DejaVu Sans", "labelFontSize": 16, "labelColor": "#333", "labelPadding": 3, "tickSize": 10, "tickWidth": 1.5, "tickColor": "black", "domainColor": "black", "domainWidth": 2}}}},
  {"data": {"name": "blb"}, "mark": {"type": "line", "color": "#ff2a2a", "strokeWidth": 1},
   "encoding": {
    "x": {"field": "t", "type": "quantitative", "scale": {"domain": [10, 60], "range": [0, 875], "nice": false, "zero": false},
     "axis": {"orient": "bottom", "title": null, "values": [12,14,16,18,22,24,26,28,32,34,36,38,42,44,46,48,52,54,56,58], "labels": false, "domain": false, "tickSize": 9, "tickWidth": 1.5, "tickColor": "black"}},
    "y": {"field": "v", "type": "quantitative", "scale": {"domain": [0, 0.4183], "nice": false, "zero": false},
     "axis": {"orient": "left", "title": null, "values": [0.01,0.02,0.03,0.04,0.06,0.07,0.08,0.09,0.11,0.12,0.13,0.14,0.16,0.17,0.18,0.19,0.21,0.22,0.23,0.24,0.26,0.27,0.28,0.29,0.31,0.32,0.33,0.34,0.36,0.37,0.38,0.39,0.41], "labels": false, "domain": false, "tickSize": 9, "tickWidth": 1.5, "tickColor": "black"}}}},
  {"data": {"name": "gradb"}, "mark": {"type": "line", "color": "#5a3d66", "strokeWidth": 1.5},
   "encoding": {"x": {"field": "t", "type": "quantitative", "scale": {"domain": [10, 60], "range": [0, 875], "nice": false, "zero": false}, "axis": null}, "y": {"field": "v", "type": "quantitative", "scale": {"domain": [0, 0.4183], "nice": false, "zero": false}, "axis": null}}},
  {"data": {"name": "drb"}, "mark": {"type": "rule", "color": "#ff1a1a", "strokeWidth": 2},
   "encoding": {"x": {"field": "t", "type": "quantitative", "scale": {"domain": [10, 60], "range": [0, 875], "nice": false, "zero": false}, "axis": null}, "y": {"field": "v", "type": "quantitative", "scale": {"domain": [0, 0.4183], "nice": false, "zero": false}, "axis": null}, "y2": {"field": "v2"}}},
  {"data": {"name": "mkb"}, "transform": [{"filter": "datum.m == 'tri'"}], "mark": {"type": "point", "filled": false, "color": "#ff2020", "opacity": 1, "strokeWidth": 1.3, "size": 576, "shape": "M0,-0.5L1,0.5L-1,0.5Z"},
   "encoding": {"x": {"field": "t", "type": "quantitative", "scale": {"domain": [10, 60], "range": [0, 875], "nice": false, "zero": false}, "axis": null}, "y": {"field": "v", "type": "quantitative", "scale": {"domain": [0, 0.4183], "nice": false, "zero": false}, "axis": null}}},
  {"data": {"name": "mkb"}, "transform": [{"filter": "datum.m == 'dia'"}], "mark": {"type": "point", "filled": false, "color": "#ff2020", "opacity": 1, "strokeWidth": 1.3, "size": 400, "shape": "M-1,0L0,-0.6L1,0L0,0.6Z"},
   "encoding": {"x": {"field": "t", "type": "quantitative", "scale": {"domain": [10, 60], "range": [0, 875], "nice": false, "zero": false}, "axis": null}, "y": {"field": "v", "type": "quantitative", "scale": {"domain": [0, 0.4183], "nice": false, "zero": false}, "axis": null}}},
  {"data": {"name": "pkb"}, "mark": {"type": "text", "angle": 270, "align": "left", "baseline": "middle", "font": "Liberation Sans Narrow, Liberation Sans, sans-serif", "fontSize": 16, "color": "black"},
   "encoding": {"x": {"field": "tx", "type": "quantitative", "scale": {"domain": [10, 60], "range": [0, 875], "nice": false, "zero": false}, "axis": null}, "y": {"field": "ty", "type": "quantitative", "scale": {"domain": [0, 0.4183], "nice": false, "zero": false}, "axis": null}, "text": {"field": "lab"}}},
  {"data": {"name": "topline"}, "mark": {"type": "rule", "color": "#9a9a9a", "strokeWidth": 2},
   "encoding": {"x": {"field": "a", "type": "quantitative", "scale": {"domain": [10, 60], "range": [0, 875], "nice": false, "zero": false}, "axis": null}, "x2": {"field": "b"}, "y": {"field": "v", "type": "quantitative", "scale": {"domain": [0, 0.4183], "nice": false, "zero": false}, "axis": null}}},
  {"data": {"name": "arrow"}, "mark": {"type": "point", "filled": true, "fill": "#3333cc", "stroke": "black", "strokeWidth": 1.2, "opacity": 1, "size": 5929, "shape": "M-0.519,-1.506L0.519,-1.506L0.519,0L1,0L0,0.649L-1,0L-0.519,0Z"},
   "encoding": {"x": {"field": "t", "type": "quantitative", "scale": {"domain": [10, 60], "range": [0, 875], "nice": false, "zero": false}, "axis": null}, "y": {"field": "v", "type": "quantitative", "scale": {"domain": [0, 0.4183], "nice": false, "zero": false}, "axis": null}}},
  {"data": {"name": "frame"}, "mark": {"type": "rect", "filled": false, "stroke": "black", "strokeWidth": 2},
   "encoding": {"x": {"field": "x1", "type": "quantitative", "scale": {"domain": [10, 60], "range": [0, 875], "nice": false, "zero": false}, "axis": null}, "x2": {"field": "x2"}, "y": {"field": "y1", "type": "quantitative", "scale": {"domain": [0, 0.4183], "nice": false, "zero": false}, "axis": null}, "y2": {"field": "y2"}}}
 ],
 "resolve": {"axis": {"x": "independent", "y": "independent"}}
}
]
}
